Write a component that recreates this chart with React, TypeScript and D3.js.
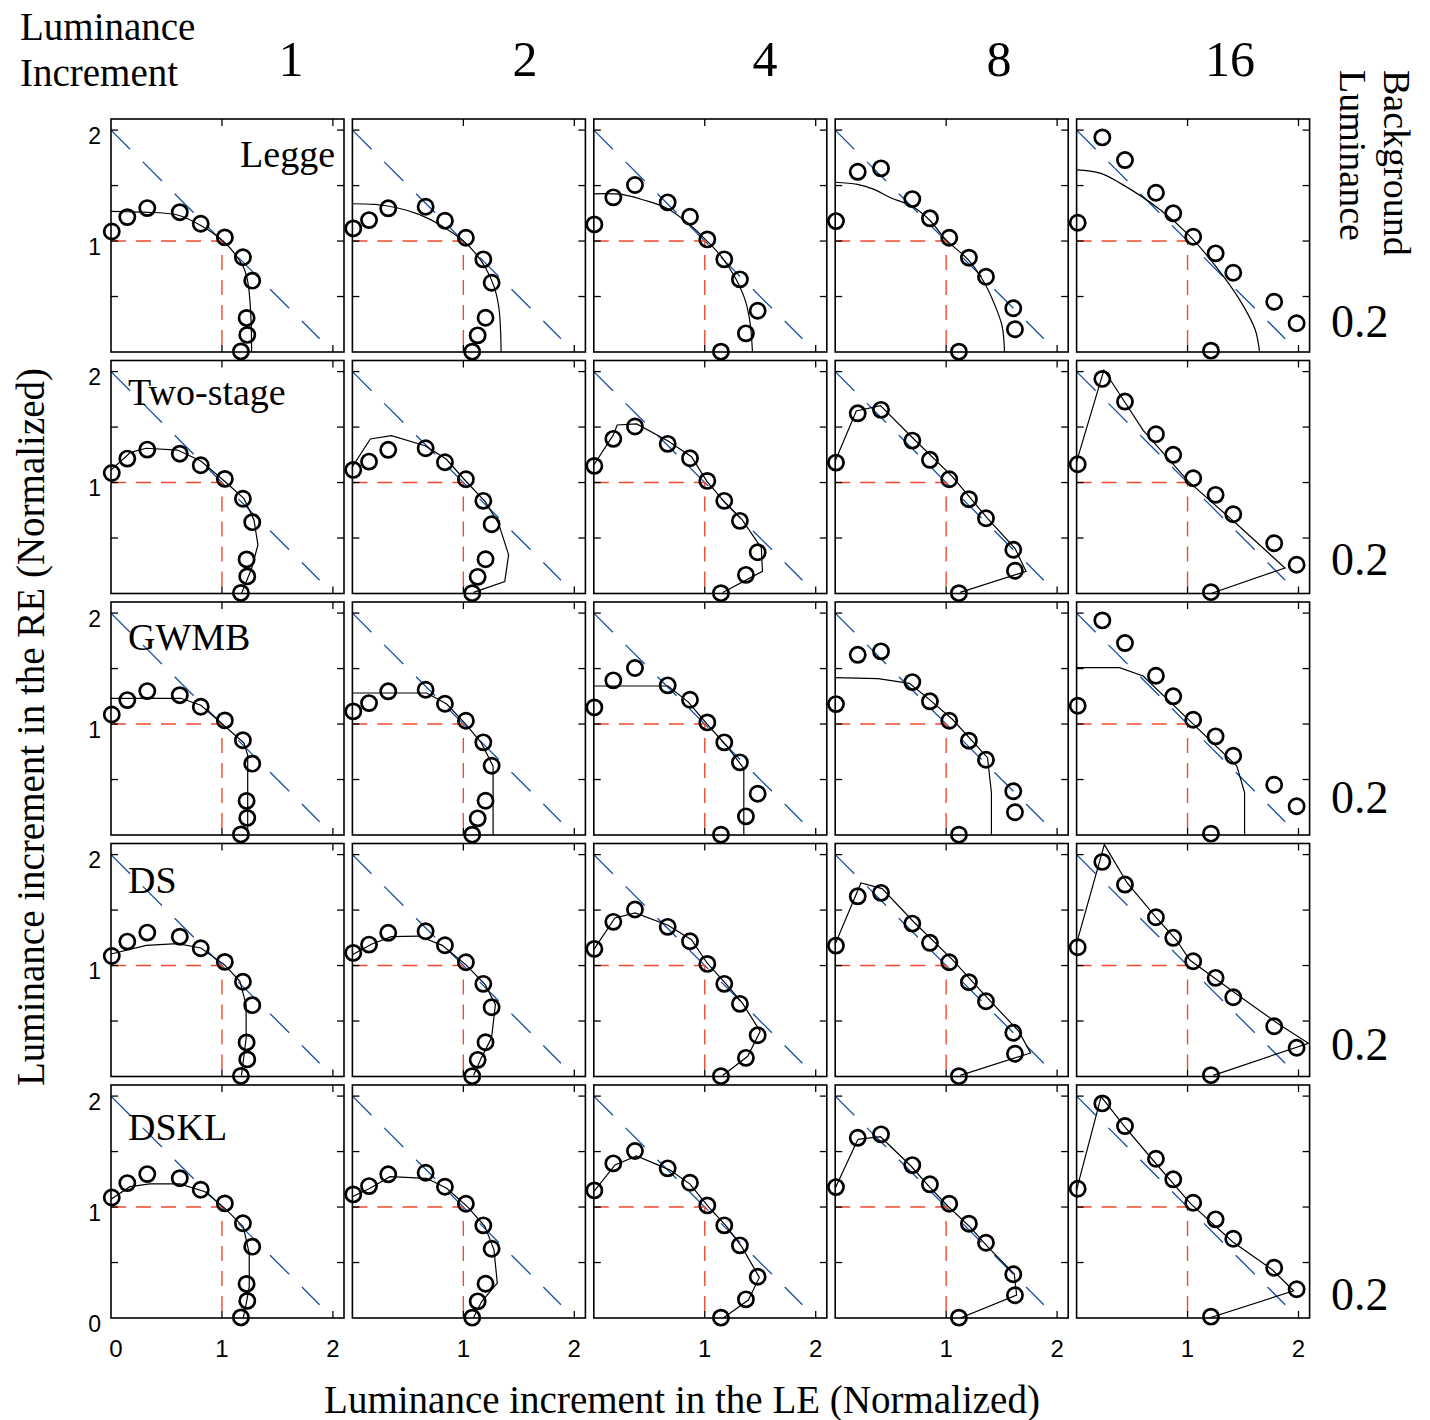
import React from 'react';
import * as d3 from 'd3';

type P = [number, number];

const columnLabels = ['1', '2', '4', '8', '16'];
const modelNames = ['Legge', 'Two-stage', 'GWMB', 'DS', 'DSKL'];
const rowLabels = ['0.2', '0.2', '0.2', '0.2', '0.2'];
const axisTicks = [0.5, 1, 1.5, 2];
const xEdgeTicks = [1, 2];
const yTickLabels = [2, 1];
const yTickLabelsBottom = [2, 1, 0];
const xTickLabelsFirst = [0, 1, 2];
const xTickLabelsOther = [1, 2];

// observed thresholds per luminance-increment column (LE, RE), same in every row
const observed: P[][] = [
  [[0.007, 1.086], [0.147, 1.216], [0.327, 1.297], [0.62, 1.26], [0.809, 1.156], [1.026, 1.033], [1.189, 0.854], [1.273, 0.643], [1.222, 0.307], [1.228, 0.154], [1.171, 0.005]],
  [[0.008, 1.114], [0.15, 1.189], [0.323, 1.295], [0.66, 1.309], [0.834, 1.183], [1.023, 1.03], [1.18, 0.835], [1.255, 0.624], [1.2, 0.309], [1.129, 0.15], [1.08, 0.003]],
  [[0.005, 1.15], [0.176, 1.394], [0.371, 1.505], [0.666, 1.349], [0.867, 1.219], [1.023, 1.015], [1.176, 0.835], [1.317, 0.655], [1.477, 0.372], [1.371, 0.168], [1.146, 0.003]],
  [[0.007, 1.18], [0.203, 1.624], [0.413, 1.655], [0.695, 1.378], [0.854, 1.205], [1.028, 1.03], [1.205, 0.85], [1.359, 0.678], [1.605, 0.394], [1.62, 0.205], [1.115, 0.003]],
  [[0.01, 1.165], [0.232, 1.934], [0.436, 1.73], [0.715, 1.435], [0.871, 1.25], [1.051, 1.039], [1.253, 0.889], [1.412, 0.714], [1.781, 0.453], [1.983, 0.259], [1.211, 0.012]],
];

const leggeCurves: P[][] = [
  [[0, 1.267], [0.15, 1.264], [0.3, 1.26], [0.6, 1.235], [0.81, 1.14], [1.01, 1.0], [1.12, 0.88], [1.2, 0.75], [1.235, 0.62], [1.255, 0.42], [1.265, 0.2], [1.267, 0]],
  [[0, 1.336], [0.2, 1.33], [0.4, 1.3], [0.6, 1.24], [0.8, 1.14], [1.0, 1.0], [1.1, 0.9], [1.2, 0.76], [1.28, 0.58], [1.32, 0.4], [1.335, 0.2], [1.34, 0]],
  [[0, 1.426], [0.25, 1.42], [0.45, 1.37], [0.65, 1.3], [0.85, 1.16], [1.0, 1.02], [1.15, 0.86], [1.28, 0.66], [1.37, 0.45], [1.41, 0.25], [1.43, 0]],
  [[0, 1.53], [0.2, 1.51], [0.344, 1.468], [0.5, 1.39], [0.7, 1.31], [0.85, 1.19], [1.0, 1.01], [1.2, 0.83], [1.338, 0.636], [1.44, 0.42], [1.505, 0.23], [1.526, 0]],
  [[0, 1.642], [0.211, 1.612], [0.392, 1.522], [0.753, 1.282], [1.023, 1.042], [1.324, 0.681], [1.505, 0.411], [1.61, 0.2], [1.649, 0]],
];

const twoStageCurves: P[][] = [
  [[0, 1.113], [0.176, 1.272], [0.317, 1.309], [0.599, 1.293], [0.81, 1.194], [1.021, 1.014], [1.197, 0.858], [1.289, 0.662], [1.324, 0.437], [1.268, 0.227], [1.176, 0]],
  [[0, 1.143], [0.162, 1.393], [0.352, 1.422], [0.655, 1.332], [0.845, 1.212], [1.021, 1.014], [1.197, 0.828], [1.317, 0.632], [1.408, 0.348], [1.373, 0.108], [1.092, 0.01]],
  [[0, 1.158], [0.176, 1.429], [0.211, 1.519], [0.387, 1.528], [0.669, 1.374], [0.88, 1.233], [1.021, 1.008], [1.162, 0.843], [1.338, 0.663], [1.51, 0.41], [1.52, 0.2], [1.162, 0.009]],
  [[0, 1.194], [0.19, 1.645], [0.408, 1.693], [0.704, 1.397], [1.056, 1.053], [1.373, 0.677], [1.62, 0.407], [1.72, 0.2], [1.127, 0.01]],
  [[0, 1.188], [0.246, 2.014], [0.6, 1.47], [1.007, 1.01], [1.45, 0.62], [1.878, 0.23], [1.21, 0]],
];

const gwmbCurves: P[][] = [
  [[0, 1.232], [0.63, 1.232], [0.81, 1.17], [1.021, 0.985], [1.197, 0.83], [1.232, 0.72], [1.232, 0]],
  [[0, 1.28], [0.669, 1.28], [0.85, 1.18], [1.021, 1.0], [1.162, 0.83], [1.268, 0.62], [1.268, 0]],
  [[0, 1.343], [0.669, 1.343], [0.85, 1.2], [1.021, 1.0], [1.2, 0.8], [1.352, 0.6], [1.352, 0]],
  [[0, 1.418], [0.387, 1.409], [0.669, 1.367], [0.85, 1.22], [1.056, 1.043], [1.373, 0.697], [1.408, 0.381], [1.408, 0]],
  [[0, 1.508], [0.387, 1.508], [0.599, 1.433], [1.021, 1.028], [1.444, 0.622], [1.514, 0.382], [1.514, 0]],
];

const dsCurves: P[][] = [
  [[0, 1.104], [0.317, 1.182], [0.599, 1.197], [0.81, 1.158], [1.021, 1.008], [1.162, 0.858], [1.218, 0.647], [1.218, 0.347], [1.176, 0.009]],
  [[0, 1.098], [0.176, 1.194], [0.352, 1.26], [0.599, 1.266], [0.81, 1.182], [1.021, 1.008], [1.197, 0.828], [1.289, 0.648], [1.254, 0.348], [1.162, 0.168], [1.092, 0.01]],
  [[0, 1.143], [0.19, 1.429], [0.373, 1.474], [0.669, 1.363], [0.88, 1.233], [1.021, 1.023], [1.197, 0.828], [1.338, 0.663], [1.5, 0.407], [1.387, 0.182], [1.162, 0.009]],
  [[0, 1.194], [0.232, 1.744], [0.423, 1.693], [0.704, 1.397], [1.056, 1.053], [1.373, 0.707], [1.655, 0.407], [1.761, 0.212], [1.127, 0.01]],
  [[0, 1.2], [0.25, 2.09], [0.456, 1.744], [0.72, 1.43], [0.9, 1.23], [1.02, 1.05], [1.5, 0.7], [1.833, 0.464], [2.09, 0.3], [1.232, 0.01]],
];

const dsklCurves: P[][] = [
  [[0, 1.07], [0.171, 1.184], [0.351, 1.208], [0.622, 1.208], [0.847, 1.138], [1.027, 0.988], [1.192, 0.823], [1.246, 0.583], [1.246, 0.283], [1.222, 0.148], [1.192, 0]],
  [[0, 1.093], [0.159, 1.169], [0.339, 1.274], [0.669, 1.259], [0.85, 1.169], [1.045, 0.995], [1.195, 0.824], [1.276, 0.614], [1.306, 0.314], [1.165, 0.148], [1.09, 0]],
  [[0, 1.138], [0.191, 1.379], [0.386, 1.46], [0.687, 1.333], [0.867, 1.207], [1.032, 1.003], [1.198, 0.823], [1.333, 0.643], [1.492, 0.366], [1.393, 0.162], [1.167, 0]],
  [[0, 1.169], [0.205, 1.61], [0.408, 1.634], [0.683, 1.37], [0.853, 1.178], [1.021, 1.003], [1.212, 0.823], [1.373, 0.643], [1.614, 0.397], [1.635, 0.207], [1.128, 0]],
  [[0, 1.154], [0.221, 1.995], [0.433, 1.724], [0.687, 1.424], [1.025, 1.033], [1.406, 0.688], [1.766, 0.433], [1.956, 0.245], [1.194, 0]],
];

const modelCurves = [leggeCurves, twoStageCurves, gwmbCurves, dsCurves, dsklCurves];
const smoothModel = [true, false, false, false, false];

const summationLine: P[] = [[0, 2], [1.88, 0.12]];
const unityCorner: P[] = [[0, 1], [1, 1], [1, 0]];

// layout
const W = 1430, H = 1420;
const left0 = 111, top0 = 119, stepX = 241.4, stepY = 241.5, size = 233;
const headerX = [291, 525, 765, 999, 1230];
const nameOffsetY = [48, 44, 48, 49, 55];
const rowLabelOffsetY = [218, 214, 211, 216, 225];
const serif = '"Liberation Serif", "Times New Roman", serif';
const sans = '"Liberation Sans", Arial, Helvetica, sans-serif';

const x = d3.scaleLinear().domain([0, 2.1]).range([0, size]);
const y = d3.scaleLinear().domain([0, 2.1]).range([size, 0]);

const Panel: React.FC<{ r: number; c: number }> = ({ r, c }) => {
  const tx = left0 + c * stepX;
  const ty = top0 + r * stepY;
  const line = d3.line<P>().x(d => x(d[0])).y(d => y(d[1]));
  if (smoothModel[r]) line.curve(d3.curveCatmullRom.alpha(0.5));
  const plain = d3.line<P>().x(d => x(d[0])).y(d => y(d[1]));
  const clipId = `clip-${r}-${c}`;
  const tl = 7;
  return (
    <g transform={`translate(${tx},${ty})`}>
      <defs>
        <clipPath id={clipId}><rect x={0} y={0} width={size} height={size} /></clipPath>
      </defs>
      <g clipPath={`url(#${clipId})`}>
        <path d={plain(summationLine) || ''} fill="none" stroke="#1a4fa3" strokeWidth={1.3} strokeDasharray="27 18" />
        <path d={plain(unityCorner) || ''} fill="none" stroke="#ee4a2c" strokeWidth={1.4} strokeDasharray="15 10" />
        <path d={line(modelCurves[r][c]) || ''} fill="none" stroke="#000" strokeWidth={1.2} />
      </g>
      {axisTicks.map(v => (
        <g key={'yt' + v}>
          <line x1={0} x2={tl} y1={y(v)} y2={y(v)} stroke="#000" strokeWidth={1.3} />
          <line x1={size} x2={size - tl} y1={y(v)} y2={y(v)} stroke="#000" strokeWidth={1.3} />
        </g>
      ))}
      {xEdgeTicks.map(v => (
        <g key={'xt' + v}>
          <line x1={x(v)} x2={x(v)} y1={0} y2={tl} stroke="#000" strokeWidth={1.3} />
          <line x1={x(v)} x2={x(v)} y1={size} y2={size - tl} stroke="#000" strokeWidth={1.3} />
        </g>
      ))}
      <rect x={0} y={0} width={size} height={size} fill="none" stroke="#000" strokeWidth={1.6} />
      {observed[c].map((d, i) => (
        <circle key={i} cx={x(d[0])} cy={y(d[1])} r={7.6} fill="none" stroke="#000" strokeWidth={2.7} />
      ))}
      {c === 0 && (r === 4 ? yTickLabelsBottom : yTickLabels).map(v => (
        <text key={'yl' + v} x={-10} y={y(v) + 13.5} textAnchor="end" fontFamily={sans} fontSize={23}>{v}</text>
      ))}
      {r === 4 && (c === 0 ? xTickLabelsFirst : xTickLabelsOther).map(v => (
        <text key={'xl' + v} x={x(v) + (v === 0 ? 5 : 0)} y={size + 39} textAnchor="middle" fontFamily={sans} fontSize={24}>{v}</text>
      ))}
      {c === 0 && (
        r === 0
          ? <text x={size - 9} y={nameOffsetY[r]} textAnchor="end" fontFamily={serif} fontSize={38}>{modelNames[r]}</text>
          : <text x={17} y={nameOffsetY[r]} fontFamily={serif} fontSize={38}>{modelNames[r]}</text>
      )}
    </g>
  );
};

export default function App() {
  const rows = d3.range(5);
  const cols = d3.range(5);
  return (
    <svg width={W} height={H} viewBox={`0 0 ${W} ${H}`} style={{ position: 'absolute', left: 0, top: 0, background: '#fff' }}>
      <rect x={0} y={0} width={W} height={H} fill="#fff" />
      <text x={20} y={40} fontFamily={serif} fontSize={39}>Luminance</text>
      <text x={20} y={86} fontFamily={serif} fontSize={39}>Increment</text>
      {columnLabels.map((l, i) => (
        <text key={l} x={headerX[i]} y={76} textAnchor="middle" fontFamily={serif} fontSize={50}>{l}</text>
      ))}
      <text transform="translate(1384,70) rotate(90)" fontFamily={serif} fontSize={38}>Background</text>
      <text transform="translate(1340,70) rotate(90)" fontFamily={serif} fontSize={38}>Luminance</text>
      {rowLabels.map((l, i) => (
        <text key={i} x={1331} y={top0 + i * stepY + rowLabelOffsetY[i]} fontFamily={serif} fontSize={46}>{l}</text>
      ))}
      {rows.map(r => cols.map(c => <Panel key={`${r}-${c}`} r={r} c={c} />))}
      <text transform="translate(44,727) rotate(-90)" textAnchor="middle" fontFamily={serif} fontSize={39}>Luminance increment in the RE (Normalized)</text>
      <text x={682} y={1413} textAnchor="middle" fontFamily={serif} fontSize={39}>Luminance increment in the LE (Normalized)</text>
    </svg>
  );
}
